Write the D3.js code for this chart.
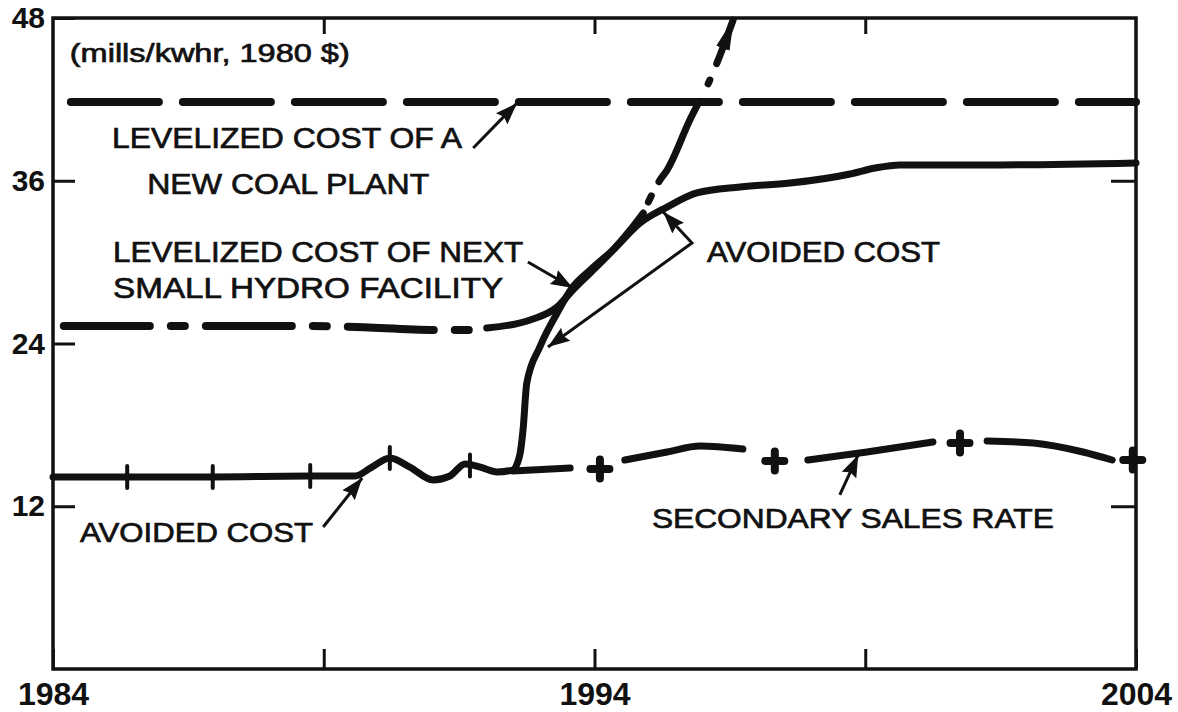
<!DOCTYPE html>
<html>
<head>
<meta charset="utf-8">
<script src="https://cdn.jsdelivr.net/npm/d3@7"></script>
<style>
  body { margin: 0; background: #fff; }
  text { font-family: "Liberation Sans", Arial, Helvetica, sans-serif; fill: #111; }
  .axis text { font-weight: bold; }
  .label { stroke: #111; stroke-width: 0.7px; }
</style>
</head>
<body>
<div id="chart"></div>
<script>
// ---- data ----
const yearTicks = [1984, 1989, 1994, 1999, 2004];
const yearLabels = [1984, 1994, 2004];
const valueTicks = [12, 24, 36, 48];
const rightTicks = [12, 36];

// levelized cost of a new coal plant
const coalYears = [1984.33, 2004];
const coalValues = [41.8, 41.8];

// levelized cost of next small hydro facility
const hydroYears = [1984.2, 1985.79, 1988.56, 1989.36, 1991.15, 1991.74, 1992.01,
  1992.81, 1993.31, 1993.6, 1993.92, 1994.34, 1994.66, 1994.9,
  1995.21, 1995.34, 1995.76, 1996.13, 1996.32, 1996.56];
const hydroValues = [25.29, 25.29, 25.29, 25.25, 25.0, 25.0, 25.14,
  25.73, 26.69, 27.94, 29.2, 30.89, 32.37, 33.62,
  36.06, 36.79, 40.48, 43.43, 45.27, 47.85];

// avoided cost
const avoidedYears = [1984, 1985.37, 1986.95, 1988.75, 1989.58, 1989.89, 1990.22, 1990.59,
  1991.02, 1991.33, 1991.61, 1991.89, 1992.2, 1992.49, 1992.62, 1992.68, 1992.75,
  1992.99, 1993.31, 1993.6, 1993.92, 1994.34, 1994.84, 1995.34, 1995.89, 1996.69,
  1997.61, 1998.72, 1999.18, 1999.64, 2001.49, 2004];
const avoidedValues = [14.16, 14.16, 14.16, 14.23, 14.23, 14.89, 15.56, 14.89,
  13.94, 14.23, 15.12, 14.89, 14.53, 14.67, 15.78, 17.62, 21.09,
  23.74, 26.25, 28.17, 29.42, 30.89, 32.88, 34.06, 35.1, 35.54,
  35.83, 36.5, 36.94, 37.17, 37.17, 37.31];
const avoidedTickYears = [1985.37, 1986.95, 1988.75, 1990.22, 1991.7];
const avoidedTickValues = [14.16, 14.16, 14.23, 15.56, 15.0];

// secondary sales rate (null = break at a marker)
const secondaryYears = [1992.49, 1993.55, 1994.1, 1994.56, 1995.34, 1995.95, 1996.74, 1997.33,
  1997.94, 1999.03, 2000.25, 2000.75, 2001.25, 2002.1, 2003.02, 2003.56];
const secondaryValues = [14.6, 14.82, null, 15.41, 16.0, 16.44, 16.22, null,
  15.41, 16.0, 16.74, null, 16.81, 16.66, 16.0, 15.41];
const secondaryMarkerYears = [1994.1, 1997.33, 2000.75, 2003.94];
const secondaryMarkerValues = [14.75, 15.34, 16.66, 15.41];

// ---- layout ----
const width = 1178, height = 712;
const plot = { left: 53, right: 1136, top: 18, bottom: 669 };

const x = d3.scaleLinear().domain([1984, 2004]).range([plot.left, plot.right]);
const y = d3.scaleLinear().domain([0, 48]).range([plot.bottom, plot.top]);

const svg = d3.select("#chart").append("svg")
  .attr("width", width).attr("height", height);

const defs = svg.append("defs");
defs.append("marker")
  .attr("id", "arrow")
  .attr("viewBox", "-22 -9 24 18")
  .attr("refX", 0).attr("refY", 0)
  .attr("markerWidth", 24).attr("markerHeight", 18)
  .attr("markerUnits", "userSpaceOnUse")
  .attr("orient", "auto-start-reverse")
  .append("path")
  .attr("d", "M0,0 L-22,-8 L-19,0 L-22,8 Z")
  .attr("fill", "#111");
defs.append("marker")
  .attr("id", "bigArrow")
  .attr("viewBox", "-30 -10 32 20")
  .attr("refX", 0).attr("refY", 0)
  .attr("markerWidth", 32).attr("markerHeight", 20)
  .attr("markerUnits", "userSpaceOnUse")
  .attr("orient", "auto")
  .append("path")
  .attr("d", "M2,0 L-30,-7 L-30,7 Z")
  .attr("fill", "#111");

const pts = (xs, vs) => xs.map((d, i) => ({ year: d, v: vs[i] }));
const line = d3.line()
  .defined(d => d.v != null)
  .x(d => x(d.year)).y(d => y(d.v))
  .curve(d3.curveMonotoneX);

const ink = "#111";

// coal plant: long dashes
svg.append("path")
  .attr("d", line(pts(coalYears, coalValues)))
  .attr("fill", "none").attr("stroke", ink)
  .attr("stroke-width", 8).attr("stroke-linecap", "round")
  .attr("stroke-dasharray", "88,24");

// hydro: dash-dot / solid / dash-dot with arrow
const hydro = pts(hydroYears, hydroValues);
const solidFrom = 1992.01, solidTo = 1994.9;
svg.append("path")
  .attr("d", line(hydro.filter(d => d.year <= solidFrom)))
  .attr("fill", "none").attr("stroke", ink)
  .attr("stroke-width", 8).attr("stroke-linecap", "round")
  .attr("stroke-dasharray", "86,21,14,21");
svg.append("path")
  .attr("d", line(hydro.filter(d => d.year >= solidFrom && d.year <= solidTo)))
  .attr("fill", "none").attr("stroke", ink)
  .attr("stroke-width", 7).attr("stroke-linecap", "round");
svg.append("path")
  .attr("d", line(hydro.filter(d => d.year >= solidTo)))
  .attr("fill", "none").attr("stroke", ink)
  .attr("stroke-width", 7).attr("stroke-linecap", "round")
  .attr("stroke-dasharray", "7,16,90,20,4,18,500,16")
  .attr("stroke-dashoffset", 659)
  .attr("marker-end", "url(#bigArrow)");

// avoided cost
svg.append("path")
  .attr("d", line(pts(avoidedYears, avoidedValues)))
  .attr("fill", "none").attr("stroke", ink)
  .attr("stroke-width", 7).attr("stroke-linecap", "round")
  .attr("stroke-linejoin", "round");

svg.append("g").selectAll("line")
  .data(pts(avoidedTickYears, avoidedTickValues))
  .join("line")
  .attr("x1", d => x(d.year)).attr("x2", d => x(d.year))
  .attr("y1", d => y(d.v) - 11).attr("y2", d => y(d.v) + 11)
  .attr("stroke", ink).attr("stroke-width", 4).attr("stroke-linecap", "round");

// secondary sales rate
svg.append("path")
  .attr("d", line(pts(secondaryYears, secondaryValues)))
  .attr("fill", "none").attr("stroke", ink)
  .attr("stroke-width", 7).attr("stroke-linecap", "round");

svg.append("g").selectAll("path")
  .data(pts(secondaryMarkerYears, secondaryMarkerValues))
  .join("path")
  .attr("transform", d => `translate(${x(d.year)},${y(d.v)})`)
  .attr("d", "M-9.5,0H9.5M0,-9.5V9.5")
  .attr("stroke", ink).attr("stroke-width", 8).attr("stroke-linecap", "round");

// ---- frame and axes ----
svg.append("rect")
  .attr("x", plot.left).attr("y", plot.top)
  .attr("width", plot.right - plot.left).attr("height", plot.bottom - plot.top)
  .attr("fill", "none").attr("stroke", ink).attr("stroke-width", 3.5);

const styleAxis = g => {
  g.select(".domain").remove();
  g.selectAll(".tick line").attr("stroke", ink).attr("stroke-width", 3);
  g.selectAll(".tick text").attr("fill", ink);
};

svg.append("g").attr("class", "axis")
  .attr("transform", `translate(${plot.left},0)`)
  .call(d3.axisLeft(y).tickValues(valueTicks).tickSize(-22).tickPadding(8))
  .call(styleAxis)
  .style("font-size", "30px");

svg.append("g").attr("class", "axis")
  .attr("transform", `translate(${plot.right},0)`)
  .call(d3.axisRight(y).tickValues(rightTicks).tickSize(-25).tickFormat(""))
  .call(styleAxis);

svg.append("g").attr("class", "axis")
  .attr("transform", `translate(0,${plot.bottom})`)
  .call(d3.axisBottom(x).tickValues(yearTicks).tickSize(-20).tickPadding(13)
    .tickFormat(d => yearLabels.includes(d) ? d : ""))
  .call(styleAxis)
  .style("font-size", "32px");

svg.append("g").attr("class", "axis")
  .attr("transform", `translate(0,${plot.top})`)
  .call(d3.axisTop(x).tickValues([1989, 1994, 1999]).tickSize(-16).tickFormat(""))
  .call(styleAxis);

// ---- annotations (positions in data units) ----
const labels = [
  { text: "(mills/kwhr, 1980 $)", year: 1984.31, v: 44.76, len: 280, size: 26 },
  { text: "LEVELIZED COST OF A", year: 1985.09, v: 38.42, len: 350, size: 29 },
  { text: "NEW COAL PLANT", year: 1985.74, v: 35.02, len: 282, size: 29 },
  { text: "LEVELIZED COST OF NEXT", year: 1985.11, v: 30.01, len: 410, size: 29 },
  { text: "SMALL HYDRO FACILITY", year: 1985.11, v: 27.35, len: 390, size: 29 },
  { text: "AVOIDED COST", year: 1996.08, v: 30.01, len: 233, size: 29 },
  { text: "AVOIDED COST", year: 1984.5, v: 9.36, len: 233, size: 28 },
  { text: "SECONDARY SALES RATE", year: 1995.06, v: 10.4, len: 402, size: 28 }
];

svg.append("g").selectAll("text")
  .data(labels)
  .join("text")
  .attr("class", "label")
  .attr("x", d => x(d.year)).attr("y", d => y(d.v))
  .attr("textLength", d => d.len)
  .attr("lengthAdjust", "spacingAndGlyphs")
  .style("font-size", d => d.size + "px")
  .text(d => d.text);

const arrows = [
  [[1991.76, 38.42], [1992.57, 41.73]],
  [[1992.77, 30.01], [1993.6, 28.09]],
  [[1988.99, 10.47], [1989.71, 14.08]],
  [[1998.53, 12.83], [1998.87, 15.78]],
  [[1993.14, 23.74], [1995.8, 31.41], [1995.27, 33.7]]
];
const arrowLine = d3.line().x(d => x(d[0])).y(d => y(d[1]));

svg.append("g").selectAll("path")
  .data(arrows)
  .join("path")
  .attr("d", arrowLine)
  .attr("fill", "none").attr("stroke", ink).attr("stroke-width", 3)
  .attr("marker-end", "url(#arrow)")
  .attr("marker-start", d => d.length > 2 ? "url(#arrow)" : null);
</script>
</body>
</html>
